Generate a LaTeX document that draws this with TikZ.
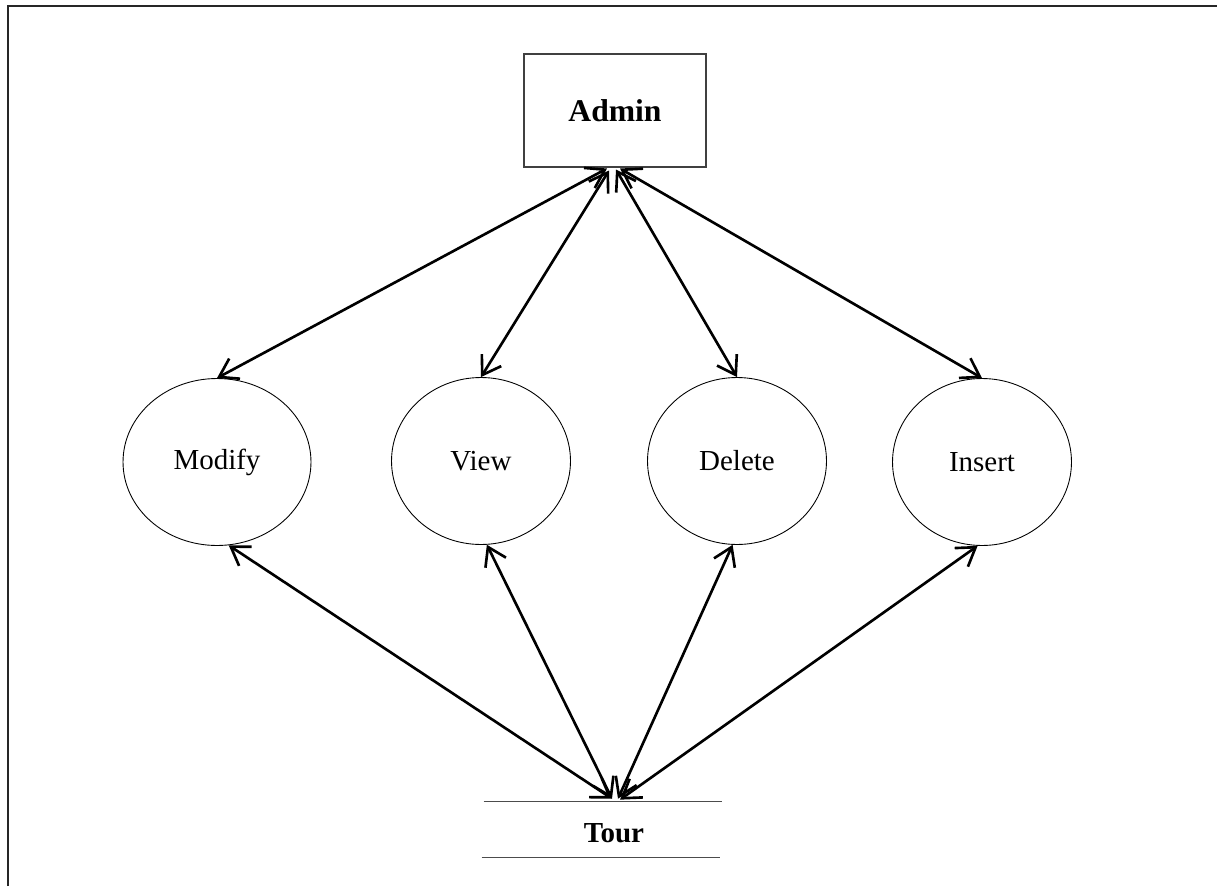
\documentclass[tikz,border=0pt]{standalone}
\usepackage{fontspec}
\setmainfont{Liberation Serif}
\usetikzlibrary{shapes.geometric,arrows.meta,positioning,calc}

\begin{document}
\begin{tikzpicture}[
    x=0.02cm, y=-0.02cm,
    entity/.style={draw=black!75, rectangle, line width=0.6pt, minimum width=3.64cm, minimum height=2.26cm, inner sep=0pt, font=\fontsize{18}{22}\selectfont\bfseries},
    process/.style={draw, ellipse, line width=0.5pt, minimum width=3.58cm, minimum height=3.34cm, inner sep=0pt, font=\fontsize{16.5}{20}\selectfont},
    store/.style={rectangle, minimum width=4.76cm, minimum height=1.1cm, inner sep=0pt},
    storeline/.style={draw=black!70, line width=0.6pt},
    arrow/.style={<->, >={Straight Barb[length=10pt,width=13pt]}, line width=1.5pt}
]
\useasboundingbox (0,0) rectangle (1217,886);

% Frame
\draw[line width=1.1pt, black!85] (8,886) -- (8,6) -- (1217,6);

% Admin entity
\node[entity] (admin) at (615,110.5) {Admin};

% Processes
\node[process, minimum width=3.76cm] (modify) at (217,462) {Modify};
\node[process] (view) at (481,461) {View};
\node[process] (delete) at (737,461) {Delete};
\node[process] (insert) at (982,462) {Insert};

% Tour data store
\node[store] (tour) at (603,829.5) {};
\node[font=\fontsize{16.5}{20}\selectfont\bfseries] (tourlabel) at (614,833) {Tour};
\draw[storeline] (tour.north west) -- (tour.north east);
\draw[storeline] ($(tour.south west)+(-2,0)$) -- ($(tour.south east)+(-2,0)$);

% Admin to processes
\draw[arrow] ($(admin.south)+(-8,1)$) -- (modify.north);
\draw[arrow] ($(admin.south)+(-6,3)$) -- (view.north);
\draw[arrow] ($(admin.south)+(1,2)$) -- (delete.north);
\draw[arrow] ($(admin.south)+(5,1)$) -- (insert.north);

% Processes to Tour
\draw[arrow] (modify.-82) -- ($(tour.north)+(9,-3)$);
\draw[arrow] (view.-86) -- ($(tour.north)+(9,-3)$);
\draw[arrow] (delete.-93) -- ($(tour.north)+(15,-3)$);
\draw[arrow] (insert.-93) -- ($(tour.north)+(17,-2)$);

\end{tikzpicture}
\end{document}
